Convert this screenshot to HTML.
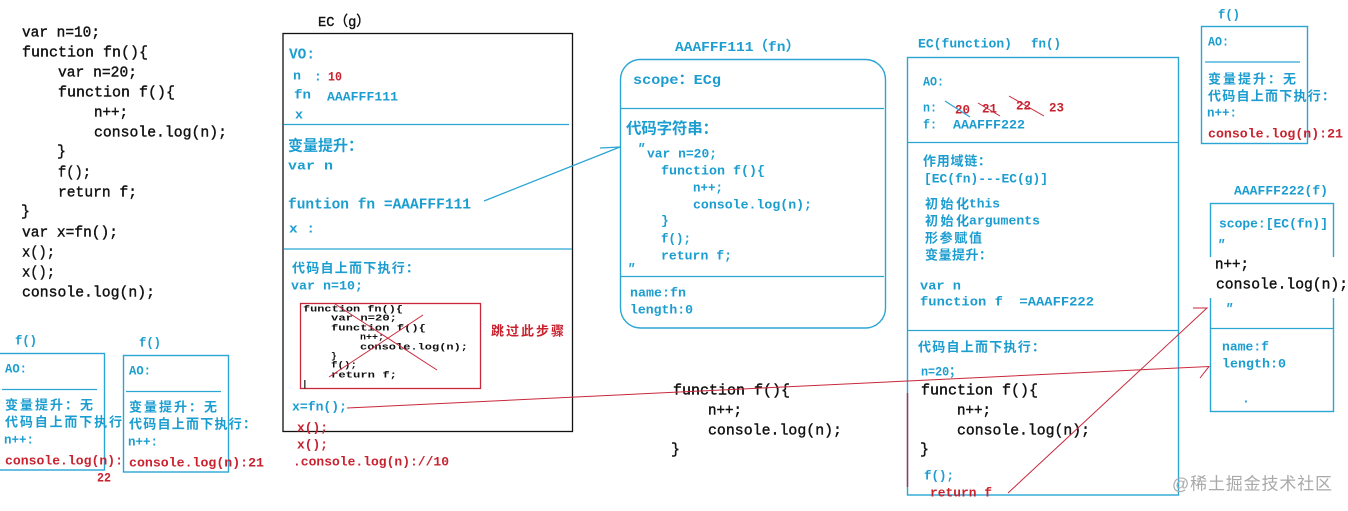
<!DOCTYPE html>
<html lang="zh"><head><meta charset="utf-8"><title>Diagram</title>
<style>
html,body{margin:0;padding:0;background:#fff;width:1348px;height:511px;overflow:hidden}
svg{display:block}
text{font-family:"Liberation Mono","Noto Sans CJK SC",monospace;font-weight:bold;dominant-baseline:central;white-space:pre}
.c{fill:#1b9dd0;font-size:13px}
.r{fill:#c9222f;font-size:13px}
.k{fill:#111;font-size:15px;font-weight:normal;stroke:#111;stroke-width:.4}
.s{fill:#111;font-size:9.5px}
.b{font-size:15px}
.z{font-family:"Liberation Sans","Noto Sans CJK SC",sans-serif}
.box{fill:none;stroke:#2ba6d4;stroke-width:1.4}
.bl{stroke:#2ba6d4;stroke-width:1.3;fill:none}
.rl{stroke:#c9283a;stroke-width:1;fill:none}
</style></head><body>
<svg width="1348" height="511" viewBox="0 0 1348 511" xmlns="http://www.w3.org/2000/svg">
<rect width="1348" height="511" fill="#fff"/>

<!-- left code -->
<g transform="translate(0,1)">
<text class="k" x="22" y="32" textLength="78" lengthAdjust="spacingAndGlyphs">var n=10;</text>
<text class="k" x="22" y="52" textLength="126" lengthAdjust="spacingAndGlyphs">function fn(){</text>
<text class="k" x="58" y="72" textLength="79" lengthAdjust="spacingAndGlyphs">var n=20;</text>
<text class="k" x="58" y="92" textLength="117" lengthAdjust="spacingAndGlyphs">function f(){</text>
<text class="k" x="94" y="112" textLength="34" lengthAdjust="spacingAndGlyphs">n++;</text>
<text class="k" x="94" y="132" textLength="133" lengthAdjust="spacingAndGlyphs">console.log(n);</text>
<text class="k" x="57" y="151">}</text>
<text class="k" x="58" y="172" textLength="33" lengthAdjust="spacingAndGlyphs">f();</text>
<text class="k" x="58" y="192" textLength="79" lengthAdjust="spacingAndGlyphs">return f;</text>
<text class="k" x="21" y="211">}</text>
<text class="k" x="22" y="232" textLength="96" lengthAdjust="spacingAndGlyphs">var x=fn();</text>
<text class="k" x="22" y="252" textLength="33" lengthAdjust="spacingAndGlyphs">x();</text>
<text class="k" x="22" y="272" textLength="33" lengthAdjust="spacingAndGlyphs">x();</text>
<text class="k" x="22" y="292" textLength="133" lengthAdjust="spacingAndGlyphs">console.log(n);</text>
</g>

<!-- f() box 1 -->
<text class="c" x="15" y="341" textLength="22" lengthAdjust="spacingAndGlyphs">f()</text>
<rect class="box" x="-2" y="353.500" width="106.500" height="116.500"/>
<line class="bl" x1="2" y1="389.500" x2="97" y2="389.500"/>
<text class="c" x="5" y="369" textLength="22" lengthAdjust="spacingAndGlyphs">AO:</text>
<text class="c z" x="5" y="405" textLength="88">变量提升：无</text>
<text class="c z" x="5" y="422" textLength="117">代码自上而下执行</text>
<text class="c" x="4" y="440" textLength="30" lengthAdjust="spacingAndGlyphs">n++:</text>
<text class="r" x="5" y="461" textLength="118" lengthAdjust="spacingAndGlyphs">console.log(n):</text>
<text class="r" x="97" y="478" textLength="14" lengthAdjust="spacingAndGlyphs">22</text>

<!-- f() box 2 -->
<text class="c" x="139" y="343" textLength="22" lengthAdjust="spacingAndGlyphs">f()</text>
<rect class="box" x="123.500" y="355.500" width="105" height="116.500"/>
<line class="bl" x1="126" y1="391.500" x2="221" y2="391.500"/>
<text class="c" x="129" y="371" textLength="22" lengthAdjust="spacingAndGlyphs">AO:</text>
<text class="c z" x="129" y="407" textLength="88">变量提升：无</text>
<text class="c z" x="129" y="424" textLength="127">代码自上而下执行：</text>
<text class="c" x="128" y="442" textLength="30" lengthAdjust="spacingAndGlyphs">n++:</text>
<text class="r" x="129" y="463" textLength="135" lengthAdjust="spacingAndGlyphs">console.log(n):21</text>

<!-- EC(g) -->
<text class="k" x="318" y="23" textLength="52" lengthAdjust="spacingAndGlyphs" style="font-size:14px">EC（g）</text>
<rect x="283" y="33.500" width="289.500" height="398" fill="none" stroke="#111" stroke-width="1.300"/>
<text class="c b" x="289" y="55" textLength="26" lengthAdjust="spacingAndGlyphs">VO:</text>
<text class="c" x="293" y="76" textLength="8" lengthAdjust="spacingAndGlyphs">n</text>
<text class="c" x="314" y="77">:</text>
<text class="r" x="328" y="77" textLength="14" lengthAdjust="spacingAndGlyphs">10</text>
<text class="c" x="294" y="95" textLength="17" lengthAdjust="spacingAndGlyphs">fn</text>
<text class="c" x="327" y="97" textLength="71" lengthAdjust="spacingAndGlyphs">AAAFFF111</text>
<text class="c" x="295" y="115" textLength="8" lengthAdjust="spacingAndGlyphs">x</text>
<line class="bl" x1="284" y1="124.500" x2="569" y2="124.500"/>
<text class="c z" x="288" y="146" style="font-size:15px" textLength="75">变量提升：</text>
<text class="c" x="288" y="166" textLength="45" lengthAdjust="spacingAndGlyphs">var n</text>
<text class="c b" x="288" y="205" textLength="183" lengthAdjust="spacingAndGlyphs">funtion fn =AAAFFF111</text>
<text class="c" x="289" y="229" textLength="26" lengthAdjust="spacingAndGlyphs">x :</text>
<line class="bl" x1="284" y1="249" x2="572" y2="249"/>
<text class="c z" x="292" y="268" textLength="127">代码自上而下执行：</text>
<text class="c" x="291" y="286" textLength="72" lengthAdjust="spacingAndGlyphs">var n=10;</text>
<rect x="300.500" y="303.500" width="180" height="85" fill="none" stroke="#c9283a" stroke-width="1.300"/>
<text class="s" x="303" y="309" textLength="100" lengthAdjust="spacingAndGlyphs">function fn(){</text>
<text class="s" x="331" y="318" textLength="66" lengthAdjust="spacingAndGlyphs">var n=20;</text>
<text class="s" x="331" y="328" textLength="95" lengthAdjust="spacingAndGlyphs">function f(){</text>
<text class="s" x="360" y="337" textLength="24" lengthAdjust="spacingAndGlyphs">n++;</text>
<text class="s" x="360" y="347" textLength="108" lengthAdjust="spacingAndGlyphs">console.log(n);</text>
<text class="s" x="331" y="356">}</text>
<text class="s" x="331" y="365" textLength="26" lengthAdjust="spacingAndGlyphs">f();</text>
<text class="s" x="331" y="375" textLength="66" lengthAdjust="spacingAndGlyphs">return f;</text>
<text class="s" x="302" y="384">|</text>
<line class="rl" x1="335" y1="304" x2="437" y2="370"/>
<line class="rl" x1="329" y1="377" x2="423" y2="315"/>
<text class="r z" x="491" y="331" textLength="73">跳过此步骤</text>
<text class="c" x="292" y="407" textLength="55" lengthAdjust="spacingAndGlyphs">x=fn();</text>
<text class="r" x="297" y="428" textLength="31" lengthAdjust="spacingAndGlyphs">x();</text>
<text class="r" x="297" y="445" textLength="31" lengthAdjust="spacingAndGlyphs">x();</text>
<text class="r" x="293" y="462" textLength="156" lengthAdjust="spacingAndGlyphs">.console.log(n)://10</text>

<!-- AAAFFF111 -->
<text class="c b" x="675" y="48" textLength="125" lengthAdjust="spacingAndGlyphs" style="font-size:14px">AAAFFF111（fn）</text>
<rect class="box" x="620.500" y="59.500" width="265" height="268.500" rx="20" ry="20"/>
<line class="bl" x1="621" y1="108.500" x2="884" y2="108.500"/>
<text class="c b" x="633" y="81" textLength="88" lengthAdjust="spacingAndGlyphs" style="font-size:14px">scope：ECg</text>
<text class="c z" x="626" y="129" style="font-size:15.500px" textLength="92">代码字符串：</text>
<text class="c" x="637" y="149" style="font-style:italic">"</text>
<text class="c" x="647" y="154" textLength="70" lengthAdjust="spacingAndGlyphs">var n=20;</text>
<text class="c" x="661" y="171" textLength="104" lengthAdjust="spacingAndGlyphs">function f(){</text>
<text class="c" x="693" y="188" textLength="30" lengthAdjust="spacingAndGlyphs">n++;</text>
<text class="c" x="693" y="205" textLength="119" lengthAdjust="spacingAndGlyphs">console.log(n);</text>
<text class="c" x="661" y="221">}</text>
<text class="c" x="661" y="239" textLength="30" lengthAdjust="spacingAndGlyphs">f();</text>
<text class="c" x="661" y="256" textLength="71" lengthAdjust="spacingAndGlyphs">return f;</text>
<text class="c" x="627" y="269" style="font-style:italic">"</text>
<line class="bl" x1="620" y1="276.500" x2="884" y2="276.500"/>
<text class="c" x="630" y="293" textLength="56" lengthAdjust="spacingAndGlyphs">name:fn</text>
<text class="c" x="630" y="310" textLength="63" lengthAdjust="spacingAndGlyphs">length:0</text>

<!-- blue connector -->
<polyline class="bl" points="484,201 620,147 600,148" stroke-width="1"/>

<!-- middle code -->
<text class="k" x="673" y="391" textLength="117" lengthAdjust="spacingAndGlyphs">function f(){</text>
<text class="k" x="708" y="411" textLength="34" lengthAdjust="spacingAndGlyphs">n++;</text>
<text class="k" x="708" y="431" textLength="134" lengthAdjust="spacingAndGlyphs">console.log(n);</text>
<text class="k" x="671" y="450">}</text>

<!-- EC(function) -->
<text class="c" x="918" y="44" textLength="94" lengthAdjust="spacingAndGlyphs">EC(function)</text>
<text class="c" x="1031" y="44" textLength="30" lengthAdjust="spacingAndGlyphs">fn()</text>
<rect class="box" x="907.500" y="57.500" width="271" height="437.500"/>
<text class="c" x="923" y="82" textLength="21" lengthAdjust="spacingAndGlyphs">AO:</text>
<text class="c" x="923" y="108" textLength="14" lengthAdjust="spacingAndGlyphs">n:</text>
<text class="r" x="955" y="110" textLength="15" lengthAdjust="spacingAndGlyphs">20</text>
<text class="r" x="982" y="109" textLength="15" lengthAdjust="spacingAndGlyphs">21</text>
<text class="r" x="1016" y="106" textLength="15" lengthAdjust="spacingAndGlyphs">22</text>
<text class="r" x="1049" y="108" textLength="15" lengthAdjust="spacingAndGlyphs">23</text>
<line class="bl" x1="945" y1="101" x2="970" y2="117" stroke-width="1"/>
<line class="rl" x1="978" y1="103" x2="1000" y2="116"/>
<line class="rl" x1="1009" y1="96" x2="1044" y2="116"/>
<text class="c" x="923" y="125" textLength="14" lengthAdjust="spacingAndGlyphs">f:</text>
<text class="c" x="953" y="125" textLength="72" lengthAdjust="spacingAndGlyphs">AAAFFF222</text>
<line class="bl" x1="908" y1="142.500" x2="1178" y2="142.500"/>
<text class="c z" x="923" y="161" textLength="68">作用域链：</text>
<text class="c" x="924" y="179" textLength="124" lengthAdjust="spacingAndGlyphs">[EC(fn)---EC(g)]</text>
<text class="c z" x="925" y="204" textLength="44">初始化</text>
<text class="c" x="969" y="204" textLength="31" lengthAdjust="spacingAndGlyphs">this</text>
<text class="c z" x="925" y="221" textLength="44">初始化</text>
<text class="c" x="969" y="221" textLength="71" lengthAdjust="spacingAndGlyphs">arguments</text>
<text class="c z" x="925" y="238" textLength="57">形参赋值</text>
<text class="c z" x="925" y="255" textLength="67">变量提升：</text>
<text class="c" x="920" y="286" textLength="41" lengthAdjust="spacingAndGlyphs">var n</text>
<text class="c" x="920" y="302" textLength="174" lengthAdjust="spacingAndGlyphs">function f  =AAAFF222</text>
<line class="bl" x1="907" y1="330.500" x2="1178" y2="330.500"/>
<text class="c z" x="918" y="347" textLength="127">代码自上而下执行：</text>
<text class="c" x="921" y="372" textLength="40" lengthAdjust="spacingAndGlyphs">n=20；</text>
<text class="k" x="921" y="391" textLength="117" lengthAdjust="spacingAndGlyphs">function f(){</text>
<text class="k" x="957" y="411" textLength="34" lengthAdjust="spacingAndGlyphs">n++;</text>
<text class="k" x="957" y="431" textLength="133" lengthAdjust="spacingAndGlyphs">console.log(n);</text>
<text class="k" x="920" y="450">}</text>
<text class="c" x="924" y="476" textLength="30" lengthAdjust="spacingAndGlyphs">f();</text>
<text class="r" x="930" y="493" textLength="62" lengthAdjust="spacingAndGlyphs">return f</text>
<line x1="907.500" y1="393" x2="907.500" y2="487" stroke="#c9283a" stroke-width="1.400"/>

<!-- top right f() -->
<text class="c" x="1218" y="15" textLength="22" lengthAdjust="spacingAndGlyphs">f()</text>
<rect class="box" x="1201.500" y="26.500" width="106" height="117"/>
<text class="c" x="1208" y="42" textLength="21" lengthAdjust="spacingAndGlyphs">AO:</text>
<line class="bl" x1="1205" y1="62" x2="1300" y2="62"/>
<text class="c z" x="1208" y="79" textLength="88">变量提升：无</text>
<text class="c z" x="1208" y="96" textLength="127">代码自上而下执行：</text>
<text class="c" x="1207" y="113" textLength="30" lengthAdjust="spacingAndGlyphs">n++:</text>
<text class="r" x="1208" y="134" textLength="135" lengthAdjust="spacingAndGlyphs">console.log(n):21</text>

<!-- AAAFFF222 -->
<text class="c" x="1234" y="191" textLength="94" lengthAdjust="spacingAndGlyphs">AAAFFF222(f)</text>
<rect class="box" x="1210.500" y="203.500" width="123" height="208"/>
<rect x="1208" y="257" width="140" height="41" fill="#fff"/>
<text class="c" x="1219" y="224" textLength="109" lengthAdjust="spacingAndGlyphs">scope:[EC(fn)]</text>
<text class="c" x="1217" y="245" style="font-style:italic">"</text>
<text class="k" x="1215" y="265" textLength="34" lengthAdjust="spacingAndGlyphs">n++;</text>
<text class="k" x="1216" y="285" textLength="132" lengthAdjust="spacingAndGlyphs">console.log(n);</text>
<text class="c" x="1225" y="309" style="font-style:italic">"</text>
<line class="bl" x1="1211" y1="328.500" x2="1333" y2="328.500"/>
<text class="c" x="1222" y="347" textLength="47" lengthAdjust="spacingAndGlyphs">name:f</text>
<text class="c" x="1222" y="364" textLength="64" lengthAdjust="spacingAndGlyphs">length:0</text>
<text class="c" x="1242" y="399">.</text>

<!-- red connectors -->
<polyline class="rl" stroke-width="1.300" points="347,408 1209,366.500 1200,378"/>
<polyline class="rl" points="1008,493 1207,308 1193,308"/>

<!-- watermark -->
<text x="1172" y="484" fill="#a9a9a9" style="font-family:'Liberation Sans','Noto Sans CJK SC',sans-serif;font-size:17px;font-weight:normal" textLength="160">@稀土掘金技术社区</text>
</svg>
</body></html>
